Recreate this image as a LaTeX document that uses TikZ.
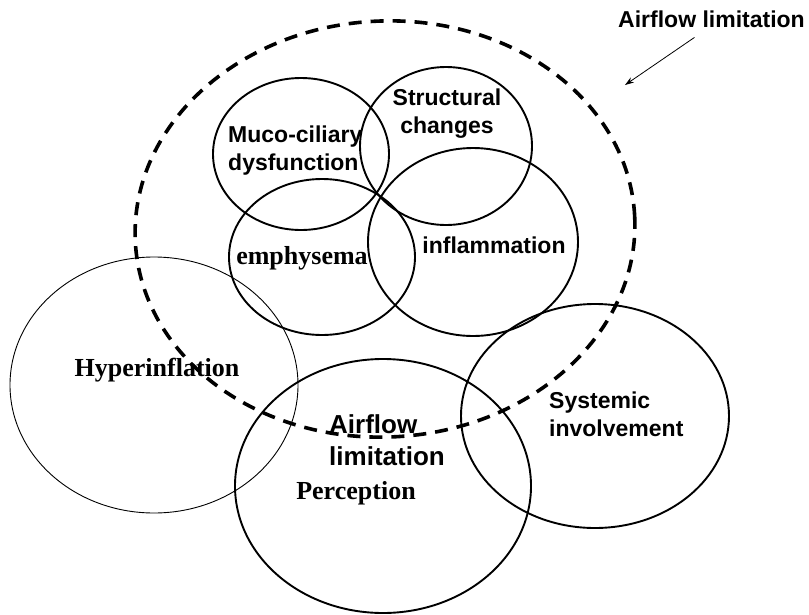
\documentclass[tikz,border=0pt]{standalone}
\usepackage{fontspec}
\setmainfont{Liberation Sans}
\newfontfamily\copdserif{Liberation Serif}
\usetikzlibrary{arrows.meta}
\tikzset{
  copdring/.style={draw, line width=1.9pt},
  copdthin/.style={draw, line width=0.9pt},
  copddash/.style={draw, line width=3.6pt, dash pattern=on 13pt off 9pt},
  copdsans/.style={inner sep=0pt, font=\fontsize{23}{28}\selectfont\bfseries},
  copdbig/.style={inner sep=0pt, font=\fontsize{26}{32}\selectfont\bfseries},
  copdtimes/.style={inner sep=0pt, font=\fontsize{26}{30}\selectfont\copdserif\bfseries},
  copdarrow/.style={-{Stealth[length=9pt,width=6pt]}, line width=0.8pt}
}
\begin{document}
\begin{tikzpicture}[x=1pt, y=-1pt]
\useasboundingbox (0,0) rectangle (809,614);
% outer airflow limitation boundary
\draw[copddash] (385,229) ellipse [x radius=250, y radius=208, rotate=3];
% inner components
\draw[copdring] (301,154) ellipse [x radius=88, y radius=76];
\draw[copdring] (446,146) ellipse [x radius=86, y radius=79];
\draw[copdring] (473,242) ellipse [x radius=105, y radius=94];
\draw[copdring] (322,257) ellipse [x radius=93, y radius=78];
% outer components
\draw[copdthin] (154,385) ellipse [x radius=144, y radius=128];
\draw[copdring] (383,486) ellipse [x radius=148, y radius=127];
\draw[copdring] (595,416) ellipse [x radius=134, y radius=112];
% labels
\node[copdsans, anchor=base west] (toplbl) at (618,27) {Airflow limitation};
\node[copdsans, align=center] (struct) at (447,114) {Structural\\changes};
\node[copdsans, align=left, anchor=west] (muco) at (228,151) {Muco-ciliary\\dysfunction};
\node[copdsans, anchor=base] (infl) at (494,253) {inflammation};
\node[copdtimes, anchor=base] (emph) at (302,264) {emphysema};
\node[copdtimes, anchor=base] (hyper) at (157,376) {Hyperinflation};
\node[copdbig, align=left, anchor=west] (airflow) at (329,440) {Airflow\\limitation};
\node[copdtimes, anchor=base] (perc) at (356,499) {Perception};
\node[copdsans, align=left, anchor=west] (syst) at (549,414) {Systemic\\involvement};
\coordinate (tip) at (625,85);
\draw[copdarrow] ([xshift=-17pt, yshift=-10pt]toplbl.south) -- (tip);
\end{tikzpicture}
\end{document}
